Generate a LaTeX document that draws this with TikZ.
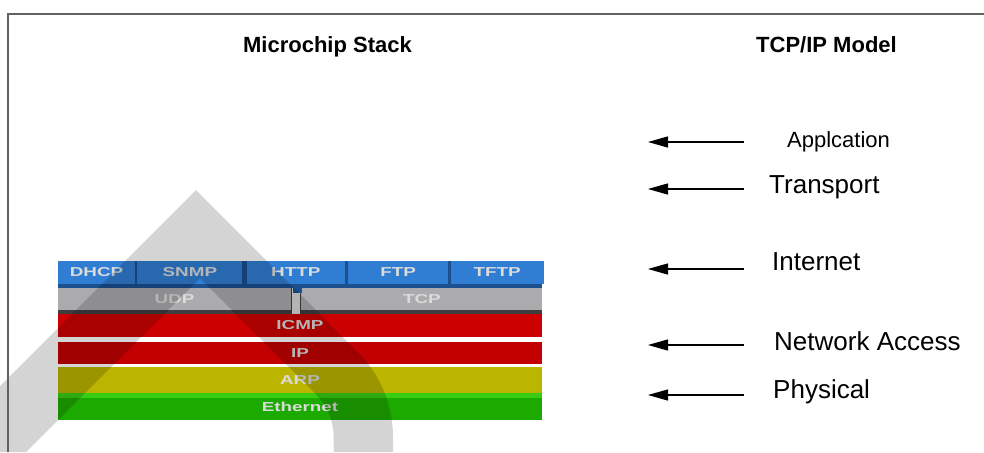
\documentclass[tikz,border=0pt]{standalone}
\usepackage{fontspec}
\setmainfont{Liberation Sans}
\newfontfamily\stackfont[FakeStretch=1.45]{Liberation Sans}
\usetikzlibrary{positioning, arrows.meta}

\definecolor{chipblue}{HTML}{2F7ED3}
\definecolor{chipbluedark}{HTML}{1B4F8E}
\definecolor{chipgray}{HTML}{ABABAE}
\definecolor{chipgraydark}{HTML}{3E3E3E}
\definecolor{chipred}{HTML}{CC0000}
\definecolor{chipredb}{HTML}{C20000}
\definecolor{chipyellow}{HTML}{BBB500}
\definecolor{chipgreen}{HTML}{1DAA00}
\definecolor{chipgreenlight}{HTML}{38CC14}

\begin{document}
\begin{tikzpicture}[
    x=1pt, y=-1pt,
    node distance=0pt and 2pt,
    proto/.style={inner sep=0pt, minimum height=23pt, text=white!86!black,
      font=\stackfont\bfseries\fontsize{13}{13}\selectfont},
    layer/.style={proto, minimum width=484pt},
    title/.style={font=\bfseries\fontsize{22}{26}\selectfont, anchor=base, inner sep=0pt},
    model/.style={font=\fontsize{26}{30}\selectfont, anchor=base west, inner sep=0pt},
    >={Triangle[length=20pt, width=11pt]}]

  \useasboundingbox (0,0) rectangle (984,452);

  % Titles
  \node (stacktitle) [title] at (327.5,52.7) {Microchip Stack};
  \node (modeltitle) [title] at (826.5,52.7) {TCP/IP Model};

  % Application protocols (dark blue shows through the gaps)
  \fill[chipbluedark] (58,261) rectangle (542,288);
  \node (dhcp) [proto, fill=chipblue, minimum width=77pt] at (96.5,272.5) {DHCP};
  \node (snmp) [proto, fill=chipblue, minimum width=105pt, right=of dhcp] {SNMP};
  \node (http) [proto, fill=chipblue, minimum width=98pt, right=4pt of snmp] {HTTP};
  \node (ftp) [proto, fill=chipblue, minimum width=100pt, right=3pt of http] {FTP};
  \node (tftp) [proto, fill=chipblue, minimum width=93pt, right=of ftp] {TFTP};

  % Transport protocols
  \fill[chipgraydark] (58,288) rectangle (542,314);
  \node (udp) [proto, fill=chipgray, minimum width=233pt, minimum height=22pt] at (174.5,299) {UDP};
  \node (tcp) [proto, fill=chipgray, minimum width=241pt, minimum height=22pt, right=10pt of udp] {TCP};
  \fill[white!85!black] (292,288) rectangle (300,314);
  \fill[chipbluedark] (293,287) rectangle (302,293);

  % Lower layers
  \node (icmp) [layer, fill=chipred] at (300,325.5) {ICMP};
  \node (ip) [layer, fill=chipredb, minimum height=22pt, below=5pt of icmp] {IP};
  \node (arp) [layer, fill=chipyellow, minimum height=26pt, below=2pt of ip] {ARP};
  \node (eth) [layer, fill=chipgreen, minimum height=27pt, below=of arp] {Ethernet};
  \fill[chipgreenlight] (eth.north west) rectangle ++(484,5);

  % Grey watermark over the stack
  \begin{scope}
    \clip (0,0) rectangle (984,452);
    \fill[black, opacity=0.17] (-66,452) -- (196,190) -- (357.85,352.15)
      .. controls (380.4,374.7) and (393,405.2) .. (393,437) -- (393,452)
      -- (333.6,452) -- (333.6,437)
      .. controls (333.6,420.9) and (327.2,405.5) .. (315.85,394.15)
      -- (200,278) -- (26,452) -- cycle;
  \end{scope}

  % Layers of the TCP/IP model
  \node (appl) [model, font=\fontsize{22}{26}\selectfont] at (787,147.3) {Applcation};
  \node (trans) [model] at (769,193.3) {Transport};
  \node (inet) [model] at (772,270) {Internet};
  \node (netacc) [model] at (774,350.7) {Network Access};
  \node (phys) [model] at (773,398.3) {Physical};

  \coordinate (applTail) at (744,142);
  \coordinate (applTip) at (648,142);
  \coordinate (transTail) at (744,189);
  \coordinate (transTip) at (648,189);
  \coordinate (inetTail) at (744,269);
  \coordinate (inetTip) at (648,269);
  \coordinate (netaccTail) at (744,345);
  \coordinate (netaccTip) at (648,345);
  \coordinate (physTail) at (744,395);
  \coordinate (physTip) at (648,395);

  \draw [->, line width=1.3pt] (applTail) -- (applTip);
  \draw [->, line width=1.3pt] (transTail) -- (transTip);
  \draw [->, line width=1.3pt] (inetTail) -- (inetTip);
  \draw [->, line width=1.3pt] (netaccTail) -- (netaccTip);
  \draw [->, line width=1.3pt] (physTail) -- (physTip);

  % Frame
  \draw [line width=1.5pt, black!62] (8,452) -- (8,14) -- (984,14);
\end{tikzpicture}
\end{document}
